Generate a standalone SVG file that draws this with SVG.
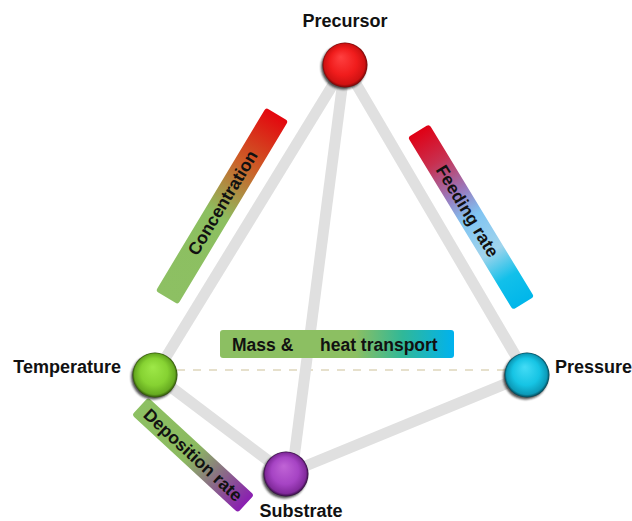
<svg xmlns="http://www.w3.org/2000/svg" width="632" height="521" viewBox="0 0 632 521">
<style>
.edge{stroke:#e0e0e0;stroke-width:11;stroke-linecap:butt;fill:none}
.dash{stroke:#e6e0cc;stroke-width:2;stroke-dasharray:8 8;fill:none}
.lbl{font-family:"Liberation Sans",Arial,sans-serif;font-weight:bold;font-size:18px;fill:#111}
.mh{font-family:"Liberation Sans",Arial,sans-serif;font-weight:bold;font-size:17.5px;fill:#111}
.bar{font-family:"Liberation Sans",Arial,sans-serif;font-weight:bold;font-size:17.5px;fill:#111;text-anchor:middle}
.sh{fill:#1a1a1a;opacity:0.75;filter:url(#blur)}
</style>
<defs>
<filter id="blur" x="-30%" y="-30%" width="160%" height="160%"><feGaussianBlur stdDeviation="1.2"/></filter>
<radialGradient id="gRed" cx="0.5" cy="0.5" r="0.5" fx="0.4" fy="0.32">
<stop offset="0" stop-color="#ff4040"/><stop offset="0.6" stop-color="#f01c1c"/><stop offset="0.9" stop-color="#d01212"/><stop offset="1" stop-color="#700808"/>
</radialGradient>
<radialGradient id="gGreen" cx="0.5" cy="0.5" r="0.5" fx="0.45" fy="0.32">
<stop offset="0" stop-color="#9ee848"/><stop offset="0.6" stop-color="#86d232"/><stop offset="0.9" stop-color="#66aa20"/><stop offset="1" stop-color="#2c4a08"/>
</radialGradient>
<radialGradient id="gCyan" cx="0.5" cy="0.5" r="0.5" fx="0.45" fy="0.32">
<stop offset="0" stop-color="#44dcf6"/><stop offset="0.6" stop-color="#16c4e4"/><stop offset="0.9" stop-color="#0c9ab8"/><stop offset="1" stop-color="#04404e"/>
</radialGradient>
<radialGradient id="gPurple" cx="0.5" cy="0.5" r="0.5" fx="0.45" fy="0.32">
<stop offset="0" stop-color="#c064d6"/><stop offset="0.6" stop-color="#a644c4"/><stop offset="0.9" stop-color="#822a9c"/><stop offset="1" stop-color="#2e0c3a"/>
</radialGradient>
<linearGradient id="gConc" x1="0" y1="0" x2="1" y2="0">
<stop offset="0" stop-color="#8dc063"/><stop offset="0.45" stop-color="#8cbf60"/><stop offset="0.72" stop-color="#cc6028"/><stop offset="1" stop-color="#e4060e"/>
</linearGradient>
<linearGradient id="gFeed" x1="0" y1="0" x2="1" y2="0">
<stop offset="0" stop-color="#e00014"/><stop offset="0.18" stop-color="#c83050"/><stop offset="0.36" stop-color="#9a78bc"/><stop offset="0.5" stop-color="#80c4f2"/><stop offset="0.7" stop-color="#a0d4ec"/><stop offset="0.85" stop-color="#12c0ea"/><stop offset="1" stop-color="#00b6ea"/>
</linearGradient>
<linearGradient id="gMass" x1="0" y1="0" x2="1" y2="0">
<stop offset="0" stop-color="#8cbf62"/><stop offset="0.58" stop-color="#8cbf62"/><stop offset="0.78" stop-color="#30b898"/><stop offset="1" stop-color="#00b2ee"/>
</linearGradient>
<linearGradient id="gDep" x1="0" y1="0" x2="1" y2="0">
<stop offset="0" stop-color="#8dc063"/><stop offset="0.48" stop-color="#8cba60"/><stop offset="0.75" stop-color="#8a6888"/><stop offset="1" stop-color="#8a1eb2"/>
</linearGradient>
</defs>
<rect width="632" height="521" fill="#ffffff"/>
<g id="connectors">
<line class="dash" x1="177" y1="370" x2="505" y2="370"/>
<line class="edge" x1="345" y1="65" x2="155" y2="375"/>
<line class="edge" x1="345" y1="65" x2="527" y2="375"/>
<line class="edge" x1="345" y1="65" x2="292" y2="474"/>
<line class="edge" x1="155" y1="375" x2="286" y2="474"/>
<line class="edge" x1="286" y1="474" x2="527" y2="375"/>
</g>
<g id="label-concentration" transform="translate(222,206) rotate(-59)">
<rect x="-107" y="-13" width="214" height="26" rx="3" fill="url(#gConc)"/>
<text class="bar" x="3" y="5">Concentration</text>
</g>
<g id="label-feeding-rate" transform="translate(471,217) rotate(58.7)">
<rect x="-101" y="-12.5" width="202" height="25" rx="3" fill="url(#gFeed)"/>
<text class="bar" x="-7" y="6">Feeding rate</text>
</g>
<g id="label-mass-heat">
<rect x="220" y="330" width="234" height="28" rx="3" fill="url(#gMass)"/>
<text class="mh" x="232" y="351">Mass &amp;</text>
<text class="mh" x="320" y="351">heat transport</text>
</g>
<g id="label-deposition-rate" transform="translate(193,455) rotate(42.7)">
<rect x="-72" y="-12" width="144" height="24" rx="3" fill="url(#gDep)"/>
<text class="bar" x="0" y="6">Deposition rate</text>
</g>
<g id="node-precursor">
<circle class="sh" cx="343.5" cy="67" r="22.5"/>
<circle cx="345" cy="65" r="22.5" fill="url(#gRed)"/>
<text class="lbl" x="345" y="27" text-anchor="middle">Precursor</text>
</g>
<g id="node-temperature">
<circle class="sh" cx="153.5" cy="377" r="22.5"/>
<circle cx="155" cy="375" r="22.5" fill="url(#gGreen)"/>
<text class="lbl" x="121" y="373" text-anchor="end">Temperature</text>
</g>
<g id="node-pressure">
<circle class="sh" cx="525.5" cy="377" r="22.5"/>
<circle cx="527" cy="375" r="22.5" fill="url(#gCyan)"/>
<text class="lbl" x="555" y="373">Pressure</text>
</g>
<g id="node-substrate">
<circle class="sh" cx="284.5" cy="476" r="22.5"/>
<circle cx="286" cy="474" r="22.5" fill="url(#gPurple)"/>
<text class="lbl" x="301" y="517" text-anchor="middle">Substrate</text>
</g>
</svg>
